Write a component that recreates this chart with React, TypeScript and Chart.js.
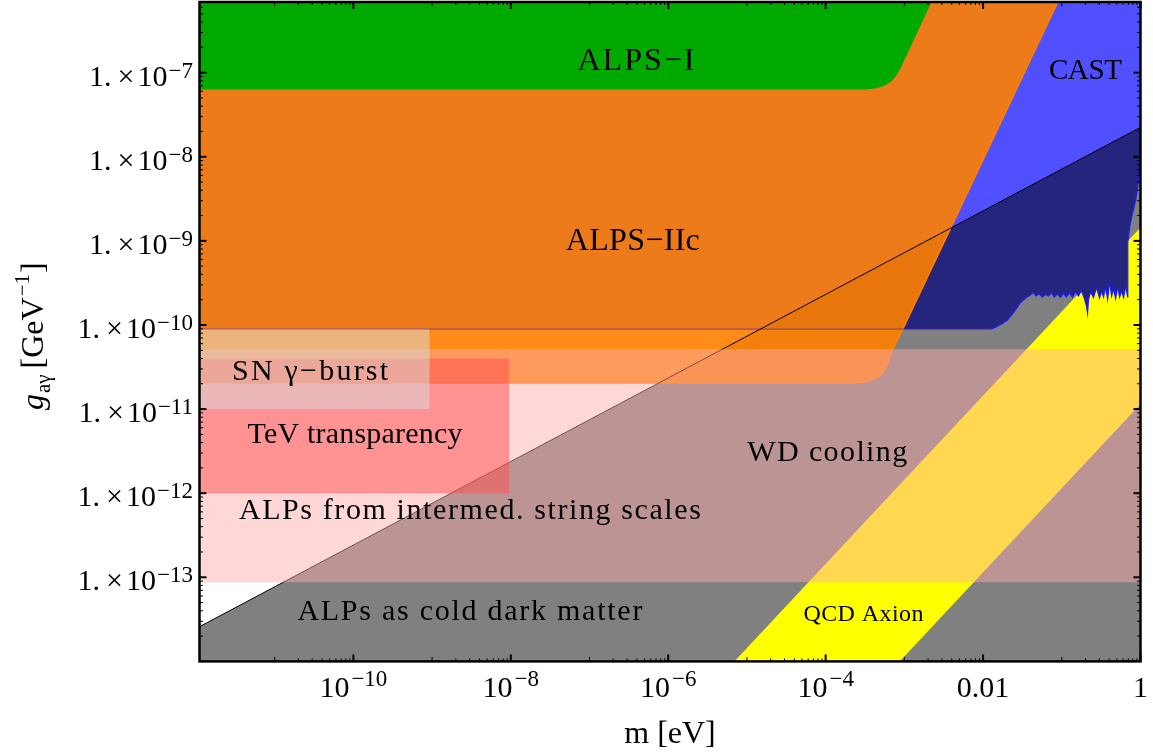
import React, { useEffect, useRef } from 'react';
import { Chart, registerables } from 'chart.js';

Chart.register(...registerables);

// ---------- axis ranges (log10 of m [eV] and g [GeV^-1]) ----------
const xRangeLog = [-11.955, 0];
const yRangeLog = [-14, -6.16];

// ---------- ALPs as cold dark matter (region below this line) ----------
const cdmLogM = [-12, 0];
const cdmLogG = [-13.61, -7.65];

// ---------- QCD axion band ----------
const qcdLeftLogM = [-5.16, -3.06, 0];
const qcdLeftLogG = [-14, -11.9, -8.84];
const qcdRightLogM = [-5.16, -3.06, 0];
const qcdRightLogG = [-14, -14, -10.94];

// ---------- CAST exclusion, lower boundary ----------
const castLogM = [
  -12, -1.9, -1.85, -1.77, -1.69, -1.61, -1.53, -1.46,
  -1.401, -1.362, -1.324, -1.286, -1.247, -1.209, -1.171, -1.133, -1.094, -1.056,
  -1.018, -0.98, -0.941, -0.903, -0.865, -0.827, -0.788, -0.75, -0.712, -0.686,
  -0.673, -0.661, -0.635, -0.597, -0.559, -0.52, -0.495, -0.469, -0.444, -0.418,
  -0.393, -0.367, -0.342, -0.316, -0.291, -0.265, -0.24, -0.214, -0.189, -0.163,
  -0.163, -0.16, -0.14, -0.112, -0.061, -0.023, 0,
];
const castLogG = [
  -10.05, -10.05, -10.03, -9.99, -9.94, -9.85, -9.74, -9.68,
  -9.643, -9.615, -9.655, -9.629, -9.667, -9.638, -9.655, -9.617, -9.667, -9.631,
  -9.672, -9.625, -9.667, -9.615, -9.672, -9.605, -9.655, -9.591, -9.69, -9.774,
  -9.861, -9.702, -9.605, -9.672, -9.556, -9.68, -9.593, -9.667, -9.542, -9.695,
  -9.482, -9.655, -9.57, -9.685, -9.544, -9.667, -9.593, -9.672, -9.53, -9.667,
  -9.3, -9.012, -8.85, -8.714, -8.512, -8.274, -8.1,
];
// CAST part lying above the CDM line
const castUpperLogM = [-12, -4.82, 0];
const castUpperLogG = [-10.05, -10.05, -7.65];

// ---------- ALPS-IIc ----------
const alps2LogM = [-12, -3.66, -3.5, -3.38, -3.31, -3.25, -3.22, -3.19, -3.15, -3.02, -0.95];
const alps2LogG = [-10.69, -10.69, -10.675, -10.64, -10.6, -10.54, -10.48, -10.38, -10.29, -10.05, -5.96];

// ---------- ALPS-I ----------
const alps1LogM = [-12, -3.5, -3.35, -3.24, -3.16, -3.1, -3.05, -2.6];
const alps1LogG = [-7.2, -7.2, -7.185, -7.15, -7.1, -7.03, -6.95, -6.05];

// ---------- WD cooling / intermediate string scale band ----------
const bandLogM = [-12, 0];
const bandLogG = [-10.29, -10.29];
const bandBottomLogG = -13.06;

// ---------- TeV transparency ----------
const tevLogM = [-12, -8.02];
const tevLogG = [-10.4, -10.4];
const tevBottomLogG = -12;

// ---------- SN gamma burst ----------
const snLogM = [-12, -9.03];
const snLogG = [-10.05, -10.05];
const snBottomLogG = -11;

// ---------- ticks ----------
const xMajorTicks = [1e-10, 1e-8, 1e-6, 1e-4, 1e-2, 1];
const xTickBase = ['10', '10', '10', '10', '0.01', '1'];
const xTickExp = ['−10', '−8', '−6', '−4', '', ''];
const yMajorTicks = [1e-7, 1e-8, 1e-9, 1e-10, 1e-11, 1e-12, 1e-13];
const yTickExp = ['−7', '−8', '−9', '−10', '−11', '−12', '−13'];

// ---------- region labels (anchored in data coordinates) ----------
const regionLabels = [
  { text: 'ALPS−I', logM: -6.41, logG: -6.87, size: 32, width: 117 },
  { text: 'ALPS−IIc', logM: -6.45, logG: -9.01, size: 32, width: 134 },
  { text: 'CAST', logM: -0.7, logG: -6.99, size: 29, width: 73 },
  { text: 'SN γ−burst', logM: -10.55, logG: -10.56, size: 30, width: 156 },
  { text: 'TeV transparency', logM: -9.98, logG: -11.31, size: 30, width: 215 },
  { text: 'WD cooling', logM: -3.98, logG: -11.52, size: 30, width: 160 },
  { text: 'ALPs from intermed. string scales', logM: -8.52, logG: -12.21, size: 30, width: 462 },
  { text: 'ALPs as cold dark matter', logM: -8.52, logG: -13.42, size: 30, width: 345 },
  { text: 'QCD Axion', logM: -3.52, logG: -13.45, size: 24, width: 120 },
];

const FONT = '"Liberation Serif", "Times New Roman", serif';

const pts = (ms: number[], gs: number[]) => ms.map((m, i) => ({ x: 10 ** m, y: 10 ** gs[i] }));

function fitText(ctx: any, text: string, cx: number, cy: number, size: number, width: number) {
  ctx.font = `${size}px ${FONT}`;
  ctx.letterSpacing = '0px';
  const w = ctx.measureText(text).width;
  const n = Array.from(text).length;
  const ls = n > 1 ? (width - w) / (n - 1) : 0;
  ctx.letterSpacing = `${ls}px`;
  ctx.textAlign = 'left';
  ctx.textBaseline = 'middle';
  ctx.fillText(text, cx - width / 2, cy);
  ctx.letterSpacing = '0px';
}

const overlay = {
  id: 'overlay',
  afterDatasetsDraw(chart: any) {
    const { ctx, chartArea: a, scales } = chart;
    const xs = scales.x;
    const ys = scales.y;
    ctx.save();
    ctx.fillStyle = '#000';

    // region labels
    for (const L of regionLabels) {
      const px = xs.getPixelForValue(10 ** L.logM);
      const py = ys.getPixelForValue(10 ** L.logG);
      fitText(ctx, L.text, px, py, L.size, L.width);
    }

    // frame
    ctx.strokeStyle = '#000';
    ctx.lineWidth = 2.5;
    ctx.strokeRect(a.left, a.top, a.right - a.left, a.bottom - a.top);

    const tick = (x1: number, y1: number, x2: number, y2: number, w: number) => {
      ctx.lineWidth = w;
      ctx.beginPath();
      ctx.moveTo(x1, y1);
      ctx.lineTo(x2, y2);
      ctx.stroke();
    };
    // x ticks (inward, bottom and top)
    for (let d = -12; d <= 0; d++) {
      if (d % 2 === 0) {
        const px = xs.getPixelForValue(10 ** d);
        if (px < a.left + 1 || px > a.right + 1) continue;
        tick(px, a.bottom, px, a.bottom - 7, 2);
        tick(px, a.top, px, a.top + 7, 2);
      } else {
        for (let k = 1; k <= 9; k++) {
          const px = xs.getPixelForValue(k * 10 ** d);
          if (px < a.left + 1 || px > a.right - 1) continue;
          const len = k === 1 ? 4.5 : 3;
          tick(px, a.bottom, px, a.bottom - len, 1);
          tick(px, a.top, px, a.top + len, 1);
        }
      }
    }
    // y ticks (inward, left and right)
    for (let d = -14; d <= -7; d++) {
      for (let k = 1; k <= 9; k++) {
        const py = ys.getPixelForValue(k * 10 ** d);
        if (py < a.top + 1 || py > a.bottom - 1) continue;
        const len = k === 1 ? 7 : 3.5;
        const w = k === 1 ? 2 : 1;
        tick(a.left, py, a.left + len, py, w);
        tick(a.right, py, a.right - len, py, w);
      }
    }

    // y tick labels
    ctx.textAlign = 'left';
    ctx.textBaseline = 'alphabetic';
    for (let i = 0; i < yMajorTicks.length; i++) {
      const py = ys.getPixelForValue(yMajorTicks[i]);
      ctx.font = `30px ${FONT}`;
      const w1 = ctx.measureText('1.').width;
      const wx = ctx.measureText('×').width;
      const w10 = ctx.measureText('10').width;
      ctx.font = `23px ${FONT}`;
      const we = ctx.measureText(yTickExp[i]).width;
      const gap1 = 6;
      const gap2 = 3;
      const total = w1 + gap1 + wx + gap2 + w10 + 1 + we;
      let cx = 193 - total;
      ctx.font = `30px ${FONT}`;
      ctx.fillText('1.', cx, py + 13);
      cx += w1 + gap1;
      ctx.fillText('×', cx, py + 13);
      cx += wx + gap2;
      ctx.fillText('10', cx, py + 13);
      cx += w10 + 1;
      ctx.font = `23px ${FONT}`;
      ctx.fillText(yTickExp[i], cx, py + 5);
    }

    // x tick labels
    for (let i = 0; i < xMajorTicks.length; i++) {
      const px = xs.getPixelForValue(xMajorTicks[i]);
      ctx.font = `30px ${FONT}`;
      const wb = ctx.measureText(xTickBase[i]).width;
      ctx.font = `23px ${FONT}`;
      const we = xTickExp[i] ? ctx.measureText(xTickExp[i]).width + 2 : 0;
      let cx = px - (wb + we) / 2;
      ctx.font = `30px ${FONT}`;
      ctx.fillText(xTickBase[i], cx, 697);
      cx += wb + 2;
      if (xTickExp[i]) {
        ctx.font = `23px ${FONT}`;
        ctx.fillText(xTickExp[i], cx, 686);
      }
    }

    // x axis title
    ctx.font = `32px ${FONT}`;
    ctx.textAlign = 'center';
    ctx.fillText('m [eV]', (a.left + a.right) / 2, 743);

    // y axis title (rotated)
    ctx.save();
    ctx.translate(43, 410);
    ctx.rotate(-Math.PI / 2);
    ctx.textAlign = 'left';
    let c = 0;
    ctx.font = `italic 32px ${FONT}`;
    ctx.fillText('g', c, 0);
    c += ctx.measureText('g').width + 1;
    ctx.font = `21px ${FONT}`;
    ctx.fillText('aγ', c, 7);
    c += ctx.measureText('aγ').width + 6;
    ctx.font = `32px ${FONT}`;
    ctx.fillText('[GeV', c, 0);
    c += ctx.measureText('[GeV').width + 1;
    ctx.font = `21px ${FONT}`;
    ctx.fillText('−1', c, -14);
    c += ctx.measureText('−1').width + 1;
    ctx.font = `32px ${FONT}`;
    ctx.fillText(']', c, 0);
    ctx.restore();

    ctx.restore();
  },
};

export default function App() {
  const ref = useRef<HTMLCanvasElement>(null);
  useEffect(() => {
    document.body.style.margin = '0';
    const base = { showLine: true, pointRadius: 0, borderWidth: 0, borderColor: 'rgba(0,0,0,0)', tension: 0 };
    // back-to-front list
    const layers: any[] = [
      { ...base, label: 'ALPs as cold dark matter', data: pts(cdmLogM, cdmLogG), backgroundColor: '#808080', fill: 'start' },
      { ...base, label: 'QCD Axion', data: pts(qcdLeftLogM, qcdLeftLogG), backgroundColor: '#FFFF00', fill: '+1' },
      { ...base, label: 'QCD Axion edge', data: pts(qcdRightLogM, qcdRightLogG), fill: false },
      { ...base, label: 'CAST', data: pts(castLogM, castLogG), backgroundColor: '#25257D', fill: 'end' },
      { ...base, label: 'CAST (upper)', data: pts(castUpperLogM, castUpperLogG), backgroundColor: '#5050FF', fill: 'end' },
      { ...base, label: 'ALPS-IIc', data: pts(alps2LogM, alps2LogG), backgroundColor: 'rgba(255,127,0,0.9)', fill: 'end', borderColor: 'rgb(255,128,0)', borderWidth: 1.5 },
      { ...base, label: 'ALPS-I', data: pts(alps1LogM, alps1LogG), backgroundColor: '#00AA00', fill: 'end' },
      {
        ...base, label: 'CAST edge', data: pts(castLogM, castLogG), fill: false, borderWidth: 1.2,
        borderColor: '#1a1aff',
        segment: { borderColor: (c: any) => (c.p0.parsed.x < 1e-3 ? 'rgba(80,40,190,0.6)' : '#1a1aff') },
      },
      { ...base, label: 'CDM line', data: pts(cdmLogM, cdmLogG), fill: false, borderColor: '#000', borderWidth: 1 },
      { ...base, label: 'WD cooling / string scales', data: pts(bandLogM, bandLogG), backgroundColor: 'rgba(255,170,170,0.47)', fill: { value: 10 ** bandBottomLogG } },
      { ...base, label: 'TeV transparency', data: pts(tevLogM, tevLogG), backgroundColor: 'rgba(255,80,80,0.5)', fill: { value: 10 ** tevBottomLogG } },
      { ...base, label: 'SN gamma-burst', data: pts(snLogM, snLogG), backgroundColor: 'rgba(217,217,217,0.52)', fill: { value: 10 ** snBottomLogG } },
    ];
    layers.forEach((l, i) => { l.order = layers.length - i; });

    const chart = new Chart(ref.current as HTMLCanvasElement, {
      type: 'scatter',
      data: { datasets: layers },
      options: {
        animation: false,
        responsive: false,
        events: [],
        layout: { padding: { left: 199.5, right: 12.5, top: 2, bottom: 93.6 } },
        plugins: { legend: { display: false }, tooltip: { enabled: false } },
        scales: {
          x: { type: 'logarithmic', min: 10 ** xRangeLog[0], max: 10 ** xRangeLog[1], display: false },
          y: { type: 'logarithmic', min: 10 ** yRangeLog[0], max: 10 ** yRangeLog[1], display: false },
        },
      },
      plugins: [overlay],
    } as any);
    return () => chart.destroy();
  }, []);
  return (
    <div style={{ width: 1153, height: 755, background: '#fff' }}>
      <canvas ref={ref} width={1153} height={755} style={{ display: 'block' }} />
    </div>
  );
}
